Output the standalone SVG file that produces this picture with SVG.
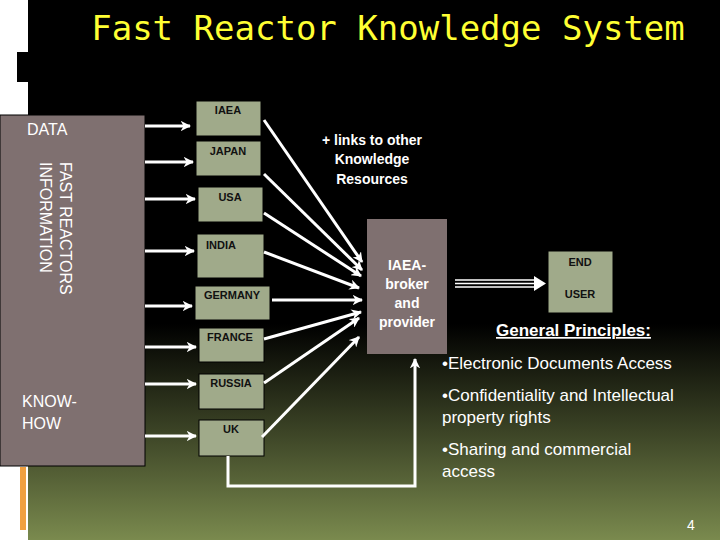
<svg xmlns="http://www.w3.org/2000/svg" width="720" height="540" viewBox="0 0 720 540">
<defs>
<linearGradient id="bg" x1="0" y1="0" x2="0" y2="1">
<stop offset="0" stop-color="#000"/><stop offset="0.6" stop-color="#000"/><stop offset="0.8" stop-color="#3c4426"/><stop offset="1" stop-color="#7a8a4e"/>
</linearGradient>
<marker id="ah" viewBox="0 0 10 10" refX="9" refY="5" markerWidth="3.5" markerHeight="3.5" orient="auto"><path d="M0,0 L10,5 L0,10 L3,5 z" fill="#fff"/></marker>
</defs>
<style>
.c{fill:#a0aa8a;stroke:#000;stroke-width:1}
.ct{font-family:"Liberation Sans",Arial,sans-serif;font-weight:bold;font-size:11px;fill:#111;text-anchor:middle}
.w{font-family:"Liberation Sans",Arial,sans-serif;fill:#fff}
.l{stroke:#fff;stroke-width:3;fill:none;marker-end:url(#ah)}
</style>
<rect width="720" height="540" fill="url(#bg)"/>
<rect x="0" y="0" width="28" height="540" fill="#fff"/>
<rect x="17" y="52" width="11" height="30" fill="#000"/>
<rect x="20" y="467" width="6" height="63" fill="#f0a040"/>
<text x="388" y="40" font-family="DejaVu Sans Mono,Liberation Mono,monospace" font-size="34" fill="#ffff33" text-anchor="middle">Fast Reactor Knowledge System</text>
<g id="source">
<rect x="0" y="115" width="145" height="351" fill="#7f7070" stroke="#000"/>
<text class="w" x="27" y="135" font-size="16">DATA</text>
<text class="w" font-size="16" transform="translate(60,162) rotate(90)">FAST REACTORS</text>
<text class="w" font-size="16" transform="translate(40,162) rotate(90)">INFORMATION</text>
<text class="w" x="22" y="407" font-size="16">KNOW-</text>
<text class="w" x="22" y="429" font-size="16">HOW</text>
</g>
<g id="iaea"><rect class="c" x="196" y="101" width="65" height="35"/><text class="ct" x="228" y="114">IAEA</text></g>
<g id="japan"><rect class="c" x="196" y="141" width="65" height="35"/><text class="ct" x="228" y="155">JAPAN</text></g>
<g id="usa"><rect class="c" x="198" y="187" width="65" height="35"/><text class="ct" x="230" y="201">USA</text></g>
<g id="india"><rect class="c" x="197" y="234" width="67" height="44" stroke="#fff"/><text class="ct" x="221" y="249">INDIA</text></g>
<g id="germany"><rect class="c" x="195" y="286" width="75" height="34"/><text class="ct" x="232" y="299">GERMANY</text></g>
<g id="france"><rect class="c" x="199" y="328" width="65" height="34"/><text class="ct" x="230" y="341">FRANCE</text></g>
<g id="russia"><rect class="c" x="199" y="374" width="65" height="35"/><text class="ct" x="231" y="387">RUSSIA</text></g>
<g id="uk"><rect class="c" x="199" y="420" width="65" height="36"/><text class="ct" x="231" y="433">UK</text></g>
<g id="broker"><rect x="367" y="219" width="80" height="135" fill="#7f7070"/>
<g class="w" font-size="14" font-weight="bold" text-anchor="middle"><text x="407" y="270">IAEA-</text><text x="407" y="289">broker</text><text x="407" y="308">and</text><text x="407" y="327">provider</text></g></g>
<g id="enduser"><rect class="c" x="548" y="251" width="65" height="62" stroke="none"/><text class="ct" x="580" y="266">END</text><text class="ct" x="580" y="298">USER</text></g>
<text class="w" x="372" y="145" font-size="14" font-weight="bold" text-anchor="middle">+ links to other</text>
<text class="w" x="372" y="164" font-size="14" font-weight="bold" text-anchor="middle">Knowledge</text>
<text class="w" x="372" y="184" font-size="14" font-weight="bold" text-anchor="middle">Resources</text>
<g id="connectors">
<path class="l" d="M145,126 H190"/><path class="l" d="M145,162 H193"/><path class="l" d="M145,199 H195"/><path class="l" d="M145,251 H194"/>
<path class="l" d="M145,306 H192"/><path class="l" d="M145,347 H196"/><path class="l" d="M145,384 H196"/><path class="l" d="M145,436 H196"/>
<path class="l" d="M264,120 L362,262"/><path class="l" d="M264,174 L362,270"/><path class="l" d="M264,213 L361,276"/><path class="l" d="M264,252 L359,288"/>
<path class="l" d="M272,300 L362,300"/><path class="l" d="M264,339 L361,312"/><path class="l" d="M264,383 L359,318"/><path class="l" d="M262,437 L359,337"/>
<path class="l" d="M228,456 V486 H415 V359"/>
<path d="M455,280 H536 M455,283.5 H536 M455,287 H536" stroke="#fff" stroke-width="1.5"/>
<path d="M534,276 L546,283.5 L534,291 z" fill="#fff"/>
</g>
<g class="w" font-size="17">
<text x="496" y="336" font-weight="bold" text-decoration="underline">General Principles:</text>
<text x="442" y="369">•Electronic Documents Access</text>
<text x="442" y="401">•Confidentiality and Intellectual</text>
<text x="442" y="423">property rights</text>
<text x="442" y="455">•Sharing and commercial</text>
<text x="442" y="477">access</text>
</g>
<text class="w" x="687" y="530" font-size="14">4</text>
</svg>
